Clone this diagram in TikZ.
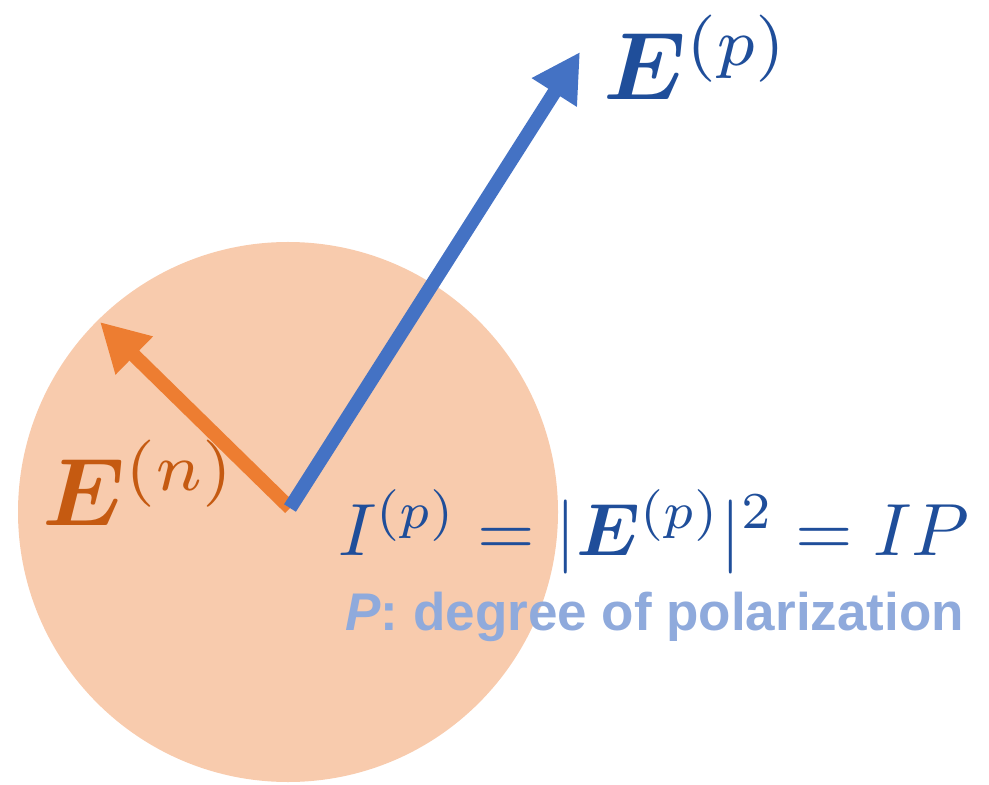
\documentclass[tikz,border=0pt]{standalone}
\usepackage{amsmath}
\usepackage{bm}
\usepackage{graphicx}
\usepackage{fontspec}
\newfontfamily\arialfont{Liberation Sans}
\usepackage{xcolor}
\usetikzlibrary{
	arrows.meta,
	positioning
}
\definecolor{PeachFill}{RGB}{248,203,173}
\definecolor{BlueArrow}{RGB}{68,114,196}
\definecolor{OrangeArrow}{RGB}{237,125,49}
\definecolor{DarkBlue}{RGB}{31,78,154}
\definecolor{DarkOrange}{RGB}{197,90,17}
\definecolor{LightBlue}{RGB}{143,170,220}

\begin{document}
\begin{tikzpicture}[x=0.5pt, y=-0.5pt,
		vec/.style={line width=7pt, -{Triangle[length=24pt, width=25pt]}},
		lbl/.style={inner sep=0pt, anchor=base west}]
		\useasboundingbox (0,0) rectangle (989,785);
		
		% 圆 (非偏振部分)
		\fill[PeachFill] (288,512) circle (135pt);
		
		% 原点与两个矢量的端点
		\coordinate (O) at (290,508);
		\coordinate (Ptip) at (580,52);
		\coordinate (Ntip) at (100,322);
		\draw[vec, OrangeArrow] (O) -- (Ntip);
		\draw[vec, BlueArrow] (O) -- (Ptip);
		
		% 标签
		\node[lbl, text=DarkBlue] (Ep) at (603,100) {\scalebox{4.8}{$\bm{E}^{(p)}$}};
		\node[lbl, text=DarkOrange] (En) at (42,525) {\scalebox{4.8}{$\bm{E}^{(n)}$}};
		
		% 强度公式
		\node[lbl, text=DarkBlue] (Ieq) at (338,555) {\scalebox{3.7}{$I^{(p)} = |\bm{E}^{(p)}|^2 = IP$}};
		\node[lbl, text=LightBlue, font=\arialfont\bfseries\fontsize{26.5}{32}\selectfont] (Pdef) at (345,630) {\textit{P}: degree of polarization};
		
	\end{tikzpicture}
\end{document}
